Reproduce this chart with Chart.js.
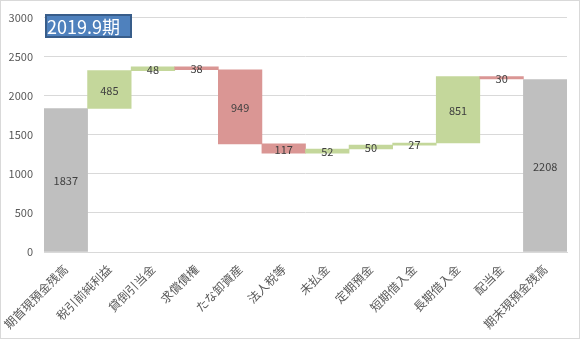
<!DOCTYPE html>
<html>
<head>
<meta charset="utf-8">
<script src="https://cdn.jsdelivr.net/npm/chart.js@4/dist/chart.umd.min.js"></script>
<style>
  html, body { margin: 0; padding: 0; background: #ffffff; }
  #wrap { position: relative; width: 580px; height: 339px; }
</style>
</head>
<body>
<div id="wrap"><canvas id="c"></canvas></div>
<script>
// Cash-flow bridge: opening cash → movements → closing cash
const categories = ['期首現預金残高', '税引前純利益', '貸倒引当金', '求償債権', 'たな卸資産', '法人税等',
                    '未払金', '定期預金', '短期借入金', '長期借入金', '配当金', '期末現預金残高'];
const openingBalance = 1837;
const changes = [485, 48, -38, -949, -117, 52, 50, 27, 851, -30];
const closingBalance = 2208;
const periodTitle = '2019.9期';
const yMin = 0, yMax = 3000, yStep = 500;

const COLOR_TOTAL = '#BFBFBF';
const COLOR_UP = '#C4D79B';
const COLOR_DOWN = '#DA9694';

// floating [low, high] ranges built from the running total
const ranges = [[0, openingBalance]];
const colors = [COLOR_TOTAL];
const labels = [openingBalance];
let running = openingBalance;
changes.forEach(d => {
  const next = running + d;
  ranges.push([Math.min(running, next), Math.max(running, next)]);
  colors.push(d >= 0 ? COLOR_UP : COLOR_DOWN);
  labels.push(Math.abs(d));
  running = next;
});
ranges.push([0, closingBalance]);
colors.push(COLOR_TOTAL);
labels.push(closingBalance);

const FONT = "'Noto Sans CJK JP', 'Noto Sans', sans-serif";

const valueLabels = {
  id: 'valueLabels',
  afterDatasetsDraw(chart) {
    const ctx = chart.ctx;
    const meta = chart.getDatasetMeta(0);
    ctx.save();
    ctx.font = '11px ' + FONT;
    ctx.fillStyle = '#404040';
    ctx.textAlign = 'center';
    ctx.textBaseline = 'middle';
    meta.data.forEach((bar, i) => {
      const cy = (bar.y + bar.base) / 2;
      ctx.fillText(String(labels[i]), bar.x, cy + 1);
    });
    ctx.restore();
  }
};

const frameAndTitle = {
  id: 'frameAndTitle',
  afterDraw(chart) {
    const ctx = chart.ctx;
    ctx.save();
    // outer frame
    ctx.strokeStyle = '#D9D9D9';
    ctx.lineWidth = 1;
    ctx.strokeRect(0.5, 0.5, chart.width - 1, chart.height - 1);
    // period title box
    const x = 45, y = 14, w = 87, h = 24;
    ctx.fillStyle = '#4F81BD';
    ctx.fillRect(x, y, w, h);
    ctx.strokeStyle = '#385D8A';
    ctx.lineWidth = 2;
    ctx.strokeRect(x + 1, y + 1, w - 2, h - 2);
    ctx.fillStyle = '#FFFFFF';
    ctx.font = '18px ' + FONT;
    ctx.textAlign = 'left';
    ctx.textBaseline = 'middle';
    ctx.fillText(periodTitle, x + 2, y + h / 2 + 1);
    ctx.restore();
  }
};

new Chart(document.getElementById('c'), {
  type: 'bar',
  data: {
    labels: categories,
    datasets: [{
      data: ranges,
      backgroundColor: colors,
      borderWidth: 0,
      categoryPercentage: 1.0,
      barPercentage: 1.0
    }]
  },
  options: {
    responsive: true,
    maintainAspectRatio: false,
    animation: false,
    layout: { padding: { left: 8, right: 13, top: 11, bottom: 0 } },
    plugins: { legend: { display: false }, tooltip: { enabled: false } },
    scales: {
      x: {
        grid: { display: false, drawTicks: false },
        border: { display: true, color: '#D9D9D9' },
        ticks: {
          color: '#595959',
          font: { family: FONT, size: 12 },
          minRotation: 45,
          maxRotation: 45,
          padding: 10,
          autoSkip: false
        },
        // fixed band for the rotated category labels
        afterFit: s => { s.paddingLeft = 0; s.paddingRight = 0; s.height = 87; }
      },
      y: {
        min: yMin,
        max: yMax,
        grid: { color: '#D9D9D9', drawTicks: false },
        border: { display: false },
        ticks: {
          stepSize: yStep,
          color: '#595959',
          font: { family: FONT, size: 11 },
          padding: 11,
          callback: v => String(v)
        },
        afterFit: s => { s.width = 36; }
      }
    }
  },
  plugins: [valueLabels, frameAndTitle]
});
</script>
</body>
</html>
